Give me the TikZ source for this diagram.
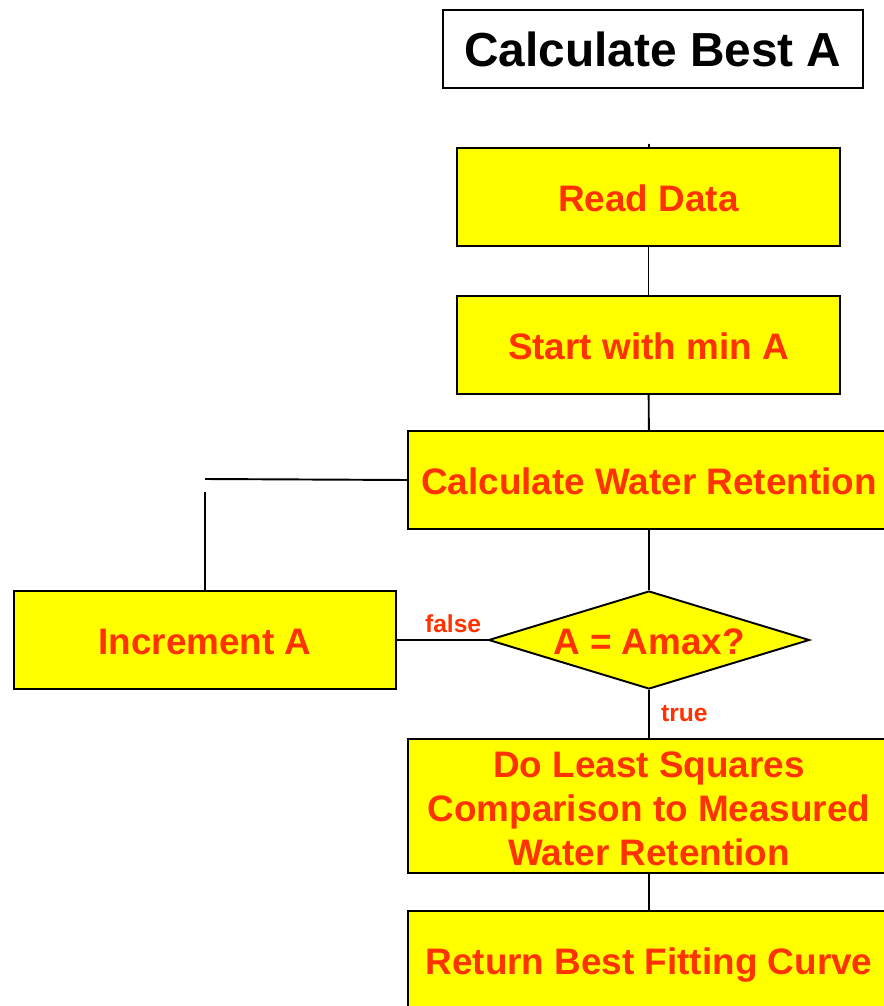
\documentclass[tikz,border=0pt]{standalone}
\usepackage{fontspec}
\setmainfont{Liberation Sans}
\usepackage{tikz}
\usetikzlibrary{shapes.geometric, positioning, calc}
\usepackage{xcolor}
\definecolor{flowyellow}{RGB}{255, 255, 0}
\definecolor{flowred}{RGB}{255, 51, 0}
\tikzstyle{process} = [rectangle, minimum width=7.66cm, minimum height=1.96cm,
                       text centered, draw=black, fill=flowyellow, line width=1.1pt,
                       text=flowred, font=\fontsize{21}{25}\selectfont\bfseries,
                       text height=18.4pt, text depth=1.6pt]
\tikzstyle{decision} = [diamond, shape aspect=3.276, inner sep=0pt, minimum width=6.42cm,
                        minimum height=1.96cm, draw=black, fill=flowyellow, line width=1.1pt,
                        text=flowred, font=\fontsize{21}{25}\selectfont\bfseries,
                        text height=18.4pt, text depth=1.6pt]
\tikzstyle{titlebox} = [rectangle, minimum width=8.4cm, minimum height=1.56cm,
                        draw=black, line width=1.1pt, font=\fontsize{27.2}{32}\selectfont\bfseries]
\tikzstyle{line} = [line width=1.1pt, black]
\tikzstyle{branch} = [text=flowred, font=\fontsize{14}{16}\selectfont\bfseries]
\begin{document}
\begin{tikzpicture}[x=0.02cm, y=-0.02cm]

\useasboundingbox (0, 0) rectangle (884, 1006);
\clip (0, 0) rectangle (884, 1006);

% Title
\node[titlebox] (title) at (653, 49) {Calculate Best A};

% Steps
\node[process] (read) at (648.5, 197) {Read Data};
\node[process] (start) at (648.5, 345) {Start with min A};
\node[process, minimum width=9.64cm] (calc) at (649, 480) {Calculate Water Retention};
\node[decision] (test) at (649, 640) {A = Amax?};
\node[process, minimum width=7.64cm] (inc) at (205, 640) {Increment A};
\node[process, minimum width=9.64cm, minimum height=2.68cm, align=center,
      text height=68pt, text depth=-2pt] (lsq) at (649, 806) {
    Do Least Squares\\
    Comparison to Measured\\
    Water Retention
};
\node[process, minimum width=9.64cm] (ret) at (649, 960) {Return Best Fitting Curve};

% Loose ends
\coordinate (stub) at (649, 144);
\coordinate (loopup) at (205, 492);
\coordinate (loopin) at (205, 479);

% Lines
\draw[line] (stub) -- (read);
\draw[line] (read) -- (start);
\draw[line] (start) -- (calc);
\draw[line] (calc) -- (test);
\draw[line] (test.west) -- node[branch, above, pos=0.38] {false} (inc.east);
\draw[line] (test.south) -- node[branch, right, xshift=3pt] {true} (lsq.north);
\draw[line] (lsq) -- (ret);
\draw[line] (inc.north) -- (loopup);
\draw[line] (loopin) -- (calc.west);

\end{tikzpicture}
\end{document}
